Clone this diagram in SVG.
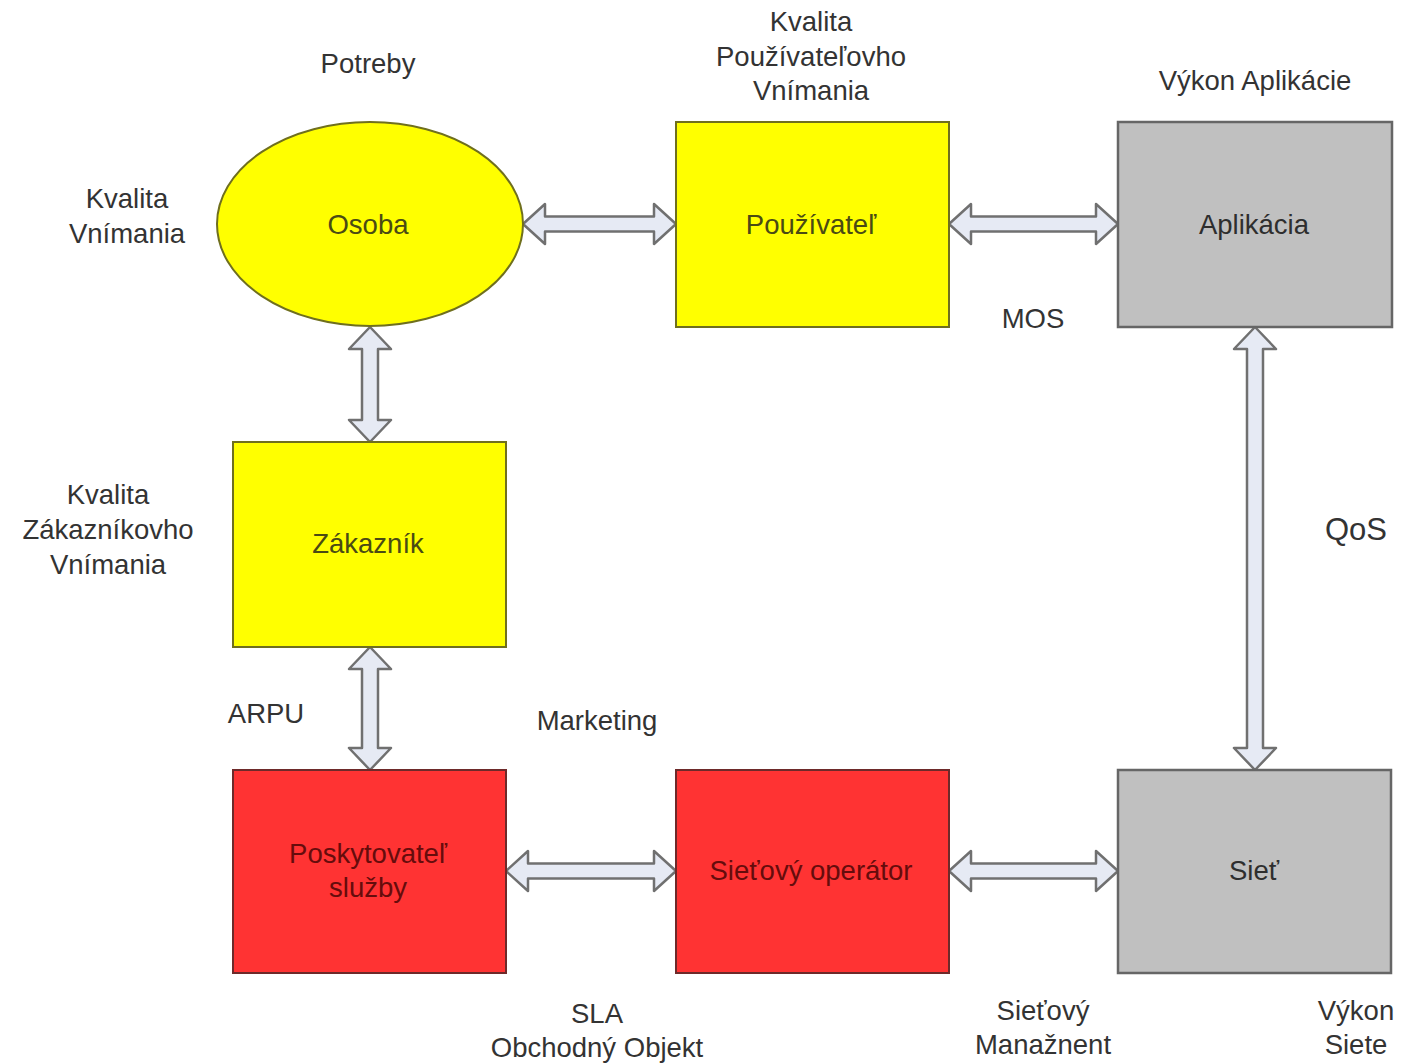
<svg xmlns="http://www.w3.org/2000/svg" width="1404" height="1063" viewBox="0 0 1404 1063">
  <style>
    text { font-family: "Liberation Sans", Arial, sans-serif; font-size: 27.5px; text-anchor: middle; dominant-baseline: central; }
    .lbl { fill: #333333; }
    .big { font-size: 31px; }
    .ytxt { fill: #4a4a14; }
    .rtxt { fill: #660c0c; }
    .gtxt { fill: #2e2e2e; }
    .yel { fill: #ffff00; stroke: #6f6f1e; stroke-width: 2; }
    .red { fill: #ff3333; stroke: #6e2a2a; stroke-width: 2; }
    .gry { fill: #c0c0c0; stroke: #666666; stroke-width: 2.5; }
    .arr { fill: #e6eaf4; stroke: #707070; stroke-width: 2.5; stroke-linejoin: round; }
  </style>

  <rect width="1404" height="1063" fill="#ffffff"/>

  <!-- double-headed block arrows -->
  <g id="connectors">
    <!-- Osoba <-> Pouzivatel -->
    <path class="arr" d="M523,224 L545,204 L545,216.5 L654,216.5 L654,204 L676,224 L654,244 L654,231.5 L545,231.5 L545,244 Z"/>
    <!-- Pouzivatel <-> Aplikacia -->
    <path class="arr" d="M949,224 L971,204 L971,216.5 L1096,216.5 L1096,204 L1118,224 L1096,244 L1096,231.5 L971,231.5 L971,244 Z"/>
    <!-- Poskytovatel <-> Sietovy operator -->
    <path class="arr" d="M506,871 L528,851 L528,863.5 L654,863.5 L654,851 L676,871 L654,891 L654,878.5 L528,878.5 L528,891 Z"/>
    <!-- Sietovy operator <-> Siet -->
    <path class="arr" d="M949,871 L971,851 L971,863.5 L1096,863.5 L1096,851 L1118,871 L1096,891 L1096,878.5 L971,878.5 L971,891 Z"/>
    <!-- Osoba <-> Zakaznik -->
    <path class="arr" d="M370,327 L391,349 L378,349 L378,420 L391,420 L370,442 L349,420 L362,420 L362,349 L349,349 Z"/>
    <!-- Zakaznik <-> Poskytovatel -->
    <path class="arr" d="M370,647 L391,669 L378,669 L378,748 L391,748 L370,770 L349,748 L362,748 L362,669 L349,669 Z"/>
    <!-- Aplikacia <-> Siet -->
    <path class="arr" d="M1255,327 L1276,349 L1263,349 L1263,748 L1276,748 L1255,770 L1234,748 L1247,748 L1247,349 L1234,349 Z"/>
  </g>

  <g id="osoba">
    <ellipse class="yel" cx="370" cy="224" rx="153" ry="102"/>
    <text class="ytxt" x="368" y="224">Osoba</text>
  </g>
  <g id="pouzivatel">
    <rect class="yel" x="676" y="122" width="273" height="205"/>
    <text class="ytxt" x="811" y="224">Používateľ</text>
  </g>
  <g id="aplikacia">
    <rect class="gry" x="1118" y="122" width="274" height="205"/>
    <text class="gtxt" x="1254" y="224">Aplikácia</text>
  </g>
  <g id="zakaznik">
    <rect class="yel" x="233" y="442" width="273" height="205"/>
    <text class="ytxt" x="368" y="543">Zákazník</text>
  </g>
  <g id="poskytovatel">
    <rect class="red" x="233" y="770" width="273" height="203"/>
    <text class="rtxt" x="368" y="853">Poskytovateľ</text>
    <text class="rtxt" x="368" y="887">služby</text>
  </g>
  <g id="sietovy-operator">
    <rect class="red" x="676" y="770" width="273" height="203"/>
    <text class="rtxt" x="811" y="870">Sieťový operátor</text>
  </g>
  <g id="siet">
    <rect class="gry" x="1118" y="770" width="273" height="203"/>
    <text class="gtxt" x="1254" y="870">Sieť</text>
  </g>

  <!-- free-standing labels -->
  <g id="labels">
    <text class="lbl" x="368" y="63">Potreby</text>
    <text class="lbl" x="811" y="21">Kvalita</text>
    <text class="lbl" x="811" y="56">Používateľovho</text>
    <text class="lbl" x="811" y="90">Vnímania</text>
    <text class="lbl" x="1255" y="80">Výkon Aplikácie</text>
    <text class="lbl" x="127" y="198">Kvalita</text>
    <text class="lbl" x="127" y="233">Vnímania</text>
    <text class="lbl" x="1033" y="318">MOS</text>
    <text class="lbl big" x="1356" y="529">QoS</text>
    <text class="lbl" x="108" y="494">Kvalita</text>
    <text class="lbl" x="108" y="529">Zákazníkovho</text>
    <text class="lbl" x="108" y="564">Vnímania</text>
    <text class="lbl" x="266" y="713">ARPU</text>
    <text class="lbl" x="597" y="720">Marketing</text>
    <text class="lbl" x="597" y="1013">SLA</text>
    <text class="lbl" x="597" y="1047">Obchodný Objekt</text>
    <text class="lbl" x="1043" y="1010">Sieťový</text>
    <text class="lbl" x="1043" y="1044">Manažnent</text>
    <text class="lbl" x="1356" y="1010">Výkon</text>
    <text class="lbl" x="1356" y="1044">Siete</text>
  </g>
</svg>
